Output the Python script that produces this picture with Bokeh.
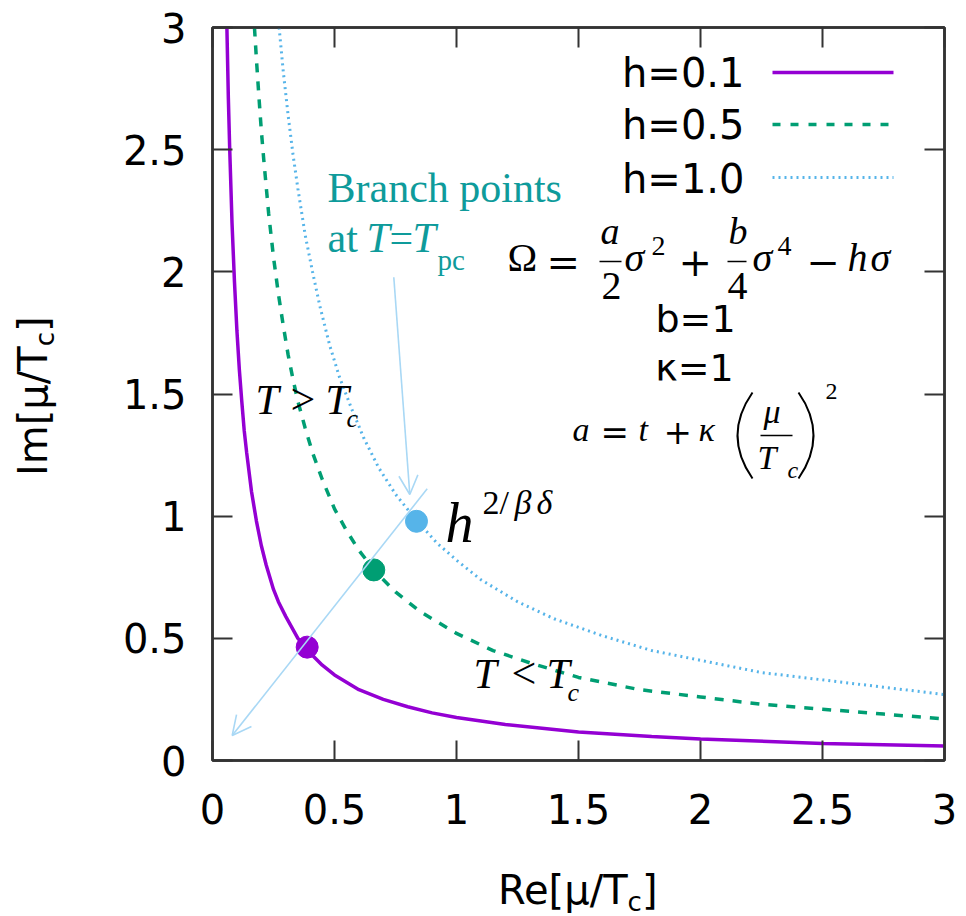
from bokeh.plotting import figure
from bokeh.models import (Range1d, FixedTicker, LinearAxis, Label, Arrow, OpenHead,
                          CustomJSTickFormatter, Div)
from bokeh.layouts import row, column
from bokeh.embed import file_html
from bokeh.resources import INLINE

# ---------------- data ----------------
series_labels = ["h=0.1", "h=0.5", "h=1.0"]
series_colors = ["#9400d3", "#009e73", "#56b4e9"]

h01_re = [0.059, 0.065, 0.07, 0.08, 0.09, 0.10, 0.11, 0.12, 0.13, 0.14, 0.16, 0.18, 0.20,
          0.22, 0.25, 0.27, 0.30, 0.35, 0.40, 0.45, 0.50, 0.60, 0.70, 0.80, 0.90, 1.00,
          1.20, 1.50, 1.80, 2.00, 2.50, 3.00]
h01_im = [3.00, 2.71, 2.52, 2.20, 1.96, 1.76, 1.60, 1.47, 1.35, 1.26, 1.10, 0.98, 0.88,
          0.80, 0.70, 0.65, 0.59, 0.50, 0.44, 0.39, 0.35, 0.29, 0.25, 0.22, 0.195, 0.176,
          0.147, 0.117, 0.098, 0.088, 0.070, 0.059]

h05_re = [0.172, 0.18, 0.19, 0.20, 0.21, 0.22, 0.23, 0.25, 0.27, 0.29, 0.31, 0.33, 0.35,
          0.38, 0.41, 0.45, 0.50, 0.55, 0.60, 0.67, 0.75, 0.85, 1.00, 1.15, 1.30, 1.50,
          1.75, 2.00, 2.25, 2.50, 2.75, 3.00]
h05_im = [3.00, 2.87, 2.72, 2.58, 2.46, 2.35, 2.24, 2.06, 1.91, 1.78, 1.66, 1.56, 1.47,
          1.36, 1.26, 1.15, 1.03, 0.94, 0.86, 0.77, 0.69, 0.61, 0.52, 0.45, 0.40, 0.34,
          0.29, 0.26, 0.23, 0.21, 0.19, 0.17]

h10_re = [0.273, 0.29, 0.31, 0.33, 0.35, 0.38, 0.41, 0.44, 0.48, 0.52, 0.57, 0.62, 0.68,
          0.75, 0.83, 0.92, 1.00, 1.10, 1.25, 1.40, 1.60, 1.80, 2.00, 2.25, 2.50, 2.75, 3.00]
h10_im = [3.00, 2.82, 2.64, 2.48, 2.34, 2.15, 2.00, 1.86, 1.70, 1.57, 1.44, 1.32, 1.20,
          1.09, 0.99, 0.89, 0.82, 0.74, 0.65, 0.58, 0.51, 0.45, 0.41, 0.36, 0.33, 0.30, 0.27]

# branch points at T = T_pc
bp_re = [0.388, 0.661, 0.836]
bp_im = [0.464, 0.780, 0.979]

ticks = [0, 0.5, 1, 1.5, 2, 2.5, 3]

x_title_main, x_title_sub, title_close = "Re[μ/T", "c", "]"
y_title_main = "Im[μ/T"

# ---------------- layout helpers (page pixels) ----------------
LEFT_W = 60                 # width of the column holding the rotated y title
TOTAL_W = 958
FIG_H = 850
BOTTOM_H = 64
FL, FT, FR, FB = 212, 27, 944, 760   # frame edges in page pixels
XMAX, YMAX = 3.0, 3.0


def P(px, py):
    return (px - FL) / (FR - FL) * XMAX, (FB - py) / (FB - FT) * YMAX


p = figure(width=TOTAL_W - LEFT_W, height=FIG_H,
           x_range=Range1d(0, XMAX), y_range=Range1d(0, YMAX),
           output_backend="svg", toolbar_location=None,
           min_border_left=FL - LEFT_W, min_border_right=TOTAL_W - FR,
           min_border_top=FT, min_border_bottom=FIG_H - FB)
p.background_fill_color = "white"
p.border_fill_color = "white"
p.grid.visible = False
p.outline_line_color = "#333333"
p.outline_line_width = 2.5

AX = "#333333"
fmt = CustomJSTickFormatter(code="return tick.toString();")
blank = CustomJSTickFormatter(code="return '';")


def style_axis(ax, labels=True):
    ax.ticker = FixedTicker(ticks=ticks)
    ax.formatter = fmt if labels else blank
    ax.major_tick_in = 20
    ax.major_tick_out = 0
    ax.minor_tick_line_color = None
    ax.major_tick_line_color = AX
    ax.major_tick_line_width = 2
    ax.axis_line_color = AX
    ax.axis_line_width = 2.5
    ax.major_label_text_font = "DejaVu Sans"
    ax.major_label_text_font_size = "40px" if labels else "1px"
    ax.major_label_text_color = "black"


style_axis(p.xaxis[0])
style_axis(p.yaxis[0])
p.xaxis[0].major_label_standoff = 33
p.yaxis[0].major_label_standoff = 26
for loc in ("right", "above"):
    a = LinearAxis()
    style_axis(a, labels=False)
    a.major_label_standoff = 0
    p.add_layout(a, loc)

# ---------------- curves ----------------
p.line(h01_re, h01_im, line_color=series_colors[0], line_width=3.5)
p.line(h05_re, h05_im, line_color=series_colors[1], line_width=3.5, line_dash="9 9")
p.line(h10_re, h10_im, line_color=series_colors[2], line_width=3, line_dash="2 4")

p.scatter(bp_re, bp_im, size=22, fill_color=series_colors, line_color=series_colors)

# ---------------- text pieces ----------------
SERIF = "Liberation Serif"
SANS = "DejaVu Sans"
DSERIF = "DejaVu Serif"
TEAL = "#0e9b9b"
BASE_FIX = 0.37   # Bokeh places 'alphabetic' text this many em too low


def lab(txt, px, py, size, font=SERIF, style="normal", color="black", align="left"):
    x, y = P(px, py - BASE_FIX * size)
    p.add_layout(Label(x=x, y=y, text=txt, text_font=font, text_font_size=f"{size}px",
                       text_font_style=style, text_color=color, text_align=align,
                       text_baseline="alphabetic"))


# legend (gnuplot style: text, then sample)
leg_text_y = [87, 139, 193]
leg_line_y = [72, 124, 177]
dashes = ["solid", "8 10", "2 4"]
widths = [3.5, 3.5, 3]
for lab_txt, ty, ly, col, dsh, lw in zip(series_labels, leg_text_y, leg_line_y,
                                          series_colors, dashes, widths):
    x0, y0 = P(772, ly)
    x1, _ = P(893, ly)
    p.line([x0, x1], [y0, y0], line_color=col, line_width=lw, line_dash=dsh)
    lab(lab_txt, 744, ty, 40, font=SANS, align="right")

# arrows
ARROW = "#a9d8f5"
for (sx, sy), (ex, ey) in [((426.7, 488.3), (231.7, 735.0)),
                           ((393.3, 276.7), (409.3, 494.0))]:
    xs, ys = P(sx, sy)
    xe, ye = P(ex, ey)
    p.add_layout(Arrow(x_start=xs, y_start=ys, x_end=xe, y_end=ye,
                       line_color=ARROW, line_width=1.6,
                       end=OpenHead(size=19, line_color=ARROW, line_width=1.6)))

# Branch points label
lab("Branch points", 327, 203, 42, color=TEAL)
lab("at", 327, 253, 42, color=TEAL)
lab("T", 366, 253, 42, style="italic", color=TEAL)
lab("=", 389, 253, 42, color=TEAL)
lab("T", 412, 253, 42, style="italic", color=TEAL)
lab("pc", 437, 270, 29, color=TEAL)

# T > Tc
lab("T", 255, 415, 42, style="italic")
lab(">", 290, 415, 44)
lab("T", 325, 415, 42, style="italic")
lab("c", 346, 428, 26, style="italic")

# T < Tc
lab("T", 473, 689, 42, style="italic")
lab("<", 511, 689, 44)
lab("T", 546, 689, 42, style="italic")
lab("c", 567, 702, 26, style="italic")

# h^{2/beta delta}
lab("h", 445, 543, 56, style="italic")
lab("2/", 482, 515, 34)
lab("β", 514, 515, 34, style="italic")
lab("δ", 536, 515, 34, style="italic")

# Omega = a/2 s^2 + b/4 s^4 - h s
lab("Ω", 507, 272, 40)
lab("=", 546, 276, 40, font=DSERIF)
lab("a", 600, 245, 38, style="italic")
lab("2", 601, 300, 40)
lab("σ", 624, 272, 40, style="italic")
lab("2", 651, 256, 28)
lab("+", 678, 276, 40, font=DSERIF)
lab("b", 728, 245, 38, style="italic")
lab("4", 727, 300, 40)
lab("σ", 752, 272, 40, style="italic")
lab("4", 777, 256, 28)
lab("−", 806, 276, 40, font=DSERIF)
lab("h", 847, 272, 40, style="italic")
lab("σ", 870, 272, 40, style="italic")

# b=1, kappa=1
lab("b=1", 695, 333, 38, font=SANS, align="center")
lab("κ=1", 694, 382, 38, font=SANS, align="center")

# a = t + kappa (mu/Tc)^2
lab("a", 572, 442, 34, style="italic")
lab("=", 600, 444, 34, font=DSERIF)
lab("t", 638, 442, 34, style="italic")
lab("+", 663, 444, 34, font=DSERIF)
lab("κ", 698, 442, 34, style="italic")
lab("μ", 763, 424, 34, style="italic")
lab("T", 757, 470, 34, style="italic")
lab("c", 787, 478, 24, style="italic")
lab("2", 825, 400, 24)

# fraction bars
bars = [(599, 621, 261), (727, 746, 261), (760, 792, 435)]
bx0, by0, bx1, by1 = [], [], [], []
for a0, a1, yy in bars:
    u0, v0 = P(a0, yy)
    u1, v1 = P(a1, yy)
    bx0.append(u0); by0.append(v0); bx1.append(u1); by1.append(v1)
p.segment(bx0, by0, bx1, by1, line_color="black", line_width=1.5)

# big parentheses
par = [((752, 392), (752, 478), (722, 435)), ((798, 392), (798, 478), (828, 435))]
qx0, qy0, qx1, qy1, qcx, qcy = [], [], [], [], [], []
for s, e, c in par:
    a, b = P(*s); qx0.append(a); qy0.append(b)
    a, b = P(*e); qx1.append(a); qy1.append(b)
    a, b = P(*c); qcx.append(a); qcy.append(b)
p.quadratic(qx0, qy0, qx1, qy1, qcx, qcy, line_color="black", line_width=2)

# ---------------- axis titles (HTML, outside the clipped frame) ----------------
FONT_CSS = "font-family:'DejaVu Sans';font-size:40px;line-height:40px;white-space:nowrap;color:black;"
SUB_CSS = "font-size:26px;position:relative;top:7px;"
BASE_IN_BOX = 34   # baseline offset inside a 40px line box

im_html = (
    f'<div style="position:relative;width:{LEFT_W}px;height:{FIG_H}px;">'
    f'<div style="position:absolute;left:{47 - BASE_IN_BOX}px;top:476px;'
    f'transform:rotate(-90deg);transform-origin:0 0;{FONT_CSS}">'
    f'{y_title_main}<span style="{SUB_CSS}">{x_title_sub}</span>{title_close}</div></div>'
)
re_html = (
    f'<div style="position:relative;width:{TOTAL_W}px;height:{BOTTOM_H}px;">'
    f'<div style="position:absolute;left:498px;top:{904 - FIG_H - BASE_IN_BOX}px;{FONT_CSS}">'
    f'{x_title_main}<span style="{SUB_CSS}">{x_title_sub}</span>{title_close}</div></div>'
)
div_im = Div(text=im_html, width=LEFT_W, height=FIG_H, margin=0)
div_re = Div(text=re_html, width=TOTAL_W, height=BOTTOM_H, margin=0)

layout = column(row(div_im, p, spacing=0), div_re, spacing=0)

open("out.html", "w").write(file_html(layout, INLINE))
